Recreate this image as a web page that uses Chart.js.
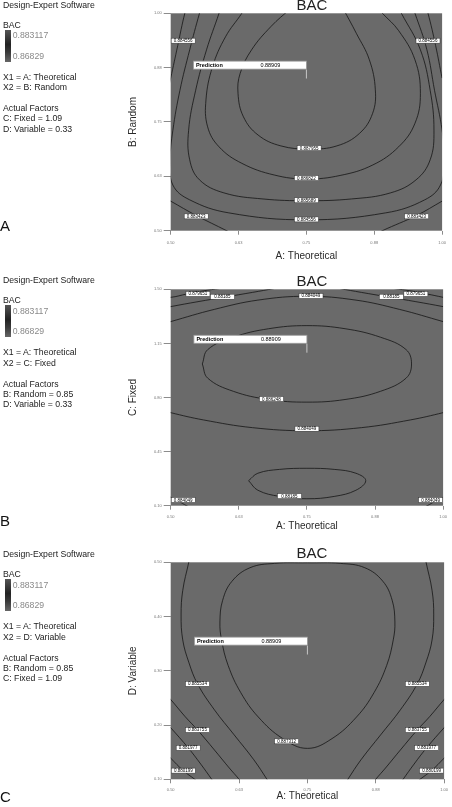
<!DOCTYPE html>
<html>
<head>
<meta charset="utf-8">
<script src="https://cdn.jsdelivr.net/npm/chart.js@4.4.1/dist/chart.umd.min.js"></script>
<style>
body{margin:0;width:452px;height:807px;overflow:hidden;position:relative;background:#fff;font-family:"Liberation Sans",Arial,sans-serif;}
canvas{position:absolute;left:0;}
.t{position:absolute;white-space:nowrap;line-height:10px;font-size:8.7px;color:#222;}
.g{color:#8a8a8a;}
.bar{position:absolute;width:6px;background:linear-gradient(#555,#222 45%,#3a3a3a 70%,#666);}
.bac{position:absolute;font-size:15px;line-height:16px;color:#222;width:60px;text-align:center;}
.letter{position:absolute;left:3px;font-size:15px;line-height:16px;color:#111;}
</style>
</head>
<body>
<canvas id="chartA" width="452" height="263"></canvas>
<canvas id="chartB" width="452" height="257"></canvas>
<canvas id="chartC" width="452" height="253"></canvas>
<script>
Chart.defaults.font.family = '"Liberation Sans", Arial, sans-serif';

/* -------- DATA -------- */

const xTicks = [0.5, 0.625, 0.75, 0.875, 1.0];
const xTickLabels = ["0.50","0.63","0.75","0.88","1.00"];
const yTicksA = [0.5, 0.625, 0.75, 0.875, 1.0];
const yTickLabelsA = ["0.50","0.63","0.75","0.88","1.00"];
const yTicksB = [0.1, 0.45, 0.8, 1.15, 1.5];
const yTickLabelsB = ["0.10","0.45","0.80","1.15","1.50"];
const yTicksC = [0.1, 0.2, 0.3, 0.4, 0.5];
const yTickLabelsC = ["0.10","0.20","0.30","0.40","0.50"];

const predictionValue = "0.88909";
const predictionA = [0.75, 0.85];
const predictionB = [0.75, 1.09];
const predictionC = [0.75, 0.33];

const sideA = ["X1 = A: Theoretical","X2 = B: Random","C: Fixed = 1.09","D: Variable = 0.33"];
const sideB = ["X1 = A: Theoretical","X2 = C: Fixed","B: Random = 0.85","D: Variable = 0.33"];
const sideC = ["X1 = A: Theoretical","X2 = D: Variable","B: Random = 0.85","C: Fixed = 1.09"];
const legendHigh = "0.883117";
const legendLow = "0.86829";

// panel A contours (A: Theoretical vs B: Random)
const contourA1 = [[0.53,1.01],[0.526,1.0],[0.513,0.926],[0.5,0.851],[0.496,0.83]];
const contourA2 = [[0.97,1.01],[0.974,1.0],[0.988,0.926],[1.0,0.851],[1.004,0.83]];
const contourA3 = [[0.556,1.01],[0.553,1.0],[0.535,0.916],[0.517,0.823],[0.504,0.731],[0.499,0.663],[0.504,0.605],[0.535,0.571],[0.607,0.541],[0.75,0.525],[0.896,0.541],[0.968,0.571],[0.997,0.605],[1.004,0.663],[1.0,0.731],[0.986,0.823],[0.972,0.916],[0.95,1.0],[0.946,1.01]];
const contourA4 = [[0.591,1.01],[0.589,1.0],[0.566,0.916],[0.546,0.823],[0.533,0.731],[0.535,0.663],[0.553,0.617],[0.598,0.587],[0.67,0.573],[0.75,0.569],[0.833,0.573],[0.905,0.587],[0.952,0.617],[0.978,0.663],[0.985,0.731],[0.978,0.823],[0.96,0.916],[0.925,1.0],[0.92,1.01]];
const contourA5 = [[0.635,1.01],[0.631,1.0],[0.601,0.946],[0.577,0.877],[0.565,0.801],[0.568,0.739],[0.589,0.693],[0.631,0.655],[0.691,0.628],[0.75,0.619],[0.812,0.627],[0.872,0.651],[0.92,0.693],[0.95,0.747],[0.96,0.816],[0.95,0.893],[0.92,0.96],[0.89,1.0],[0.883,1.01]];
const contourA6 = [[0.72,1.01],[0.685,0.97],[0.649,0.916],[0.628,0.862],[0.624,0.816],[0.634,0.762],[0.661,0.72],[0.703,0.695],[0.755,0.688],[0.806,0.695],[0.848,0.724],[0.872,0.77],[0.877,0.824],[0.866,0.893],[0.842,0.954],[0.818,1.01]];
const contourA7 = [[0.49,0.575],[0.5,0.568],[0.547,0.535],[0.603,0.5],[0.615,0.492]];
const contourA8 = [[0.88,0.492],[0.89,0.5],[0.953,0.535],[1.0,0.568],[1.01,0.575]];
const labelsA = [[0.523,0.937,"0.884556"],[0.974,0.937,"0.884556"],[0.755,0.690,"0.887955"],[0.75,0.621,"0.886822"],[0.75,0.570,"0.885689"],[0.75,0.526,"0.884556"],[0.547,0.533,"0.883423"],[0.953,0.533,"0.883423"]];

// panel B contours (A: Theoretical vs C: Fixed)
const contourB1 = [[0.49,1.455],[0.5,1.448],[0.53,1.47],[0.56,1.49],[0.59,1.505]];
const contourB2 = [[0.91,1.505],[0.94,1.49],[0.97,1.47],[1.0,1.448],[1.01,1.44]];
const contourB3 = [[0.49,1.38],[0.5,1.388],[0.55,1.42],[0.6,1.45],[0.65,1.48],[0.69,1.505]];
const contourB4 = [[0.81,1.505],[0.85,1.48],[0.9,1.45],[0.95,1.42],[1.0,1.388],[1.01,1.38]];
const contourB5 = [[0.49,1.28],[0.5,1.291],[0.58,1.37],[0.66,1.43],[0.75,1.455],[0.84,1.43],[0.92,1.37],[1.0,1.291],[1.01,1.28]];
const contourB6 = [[0.558,1.017],[0.568,1.11],[0.615,1.19],[0.68,1.245],[0.75,1.265],[0.82,1.245],[0.885,1.19],[0.932,1.11],[0.942,1.017],[0.932,0.925],[0.885,0.84],[0.82,0.787],[0.75,0.77],[0.68,0.787],[0.615,0.84],[0.568,0.925],[0.558,1.017]];
const contourB7 = [[0.49,0.715],[0.5,0.702],[0.56,0.655],[0.65,0.605],[0.75,0.585],[0.85,0.605],[0.94,0.655],[1.0,0.702],[1.01,0.715]];
const contourB8 = [[0.643,0.262],[0.66,0.31],[0.7,0.335],[0.75,0.342],[0.8,0.335],[0.84,0.31],[0.858,0.262],[0.84,0.2],[0.8,0.16],[0.75,0.145],[0.7,0.16],[0.66,0.2],[0.643,0.262]];
const contourB9 = [[0.49,0.17],[0.5,0.155],[0.515,0.128],[0.529,0.1],[0.535,0.09]];
const contourB10 = [[0.965,0.09],[0.971,0.1],[0.985,0.128],[1.0,0.155],[1.01,0.17]];
const labelsB = [[0.55,1.47,"0.879651"],[0.95,1.47,"0.879651"],[0.595,1.452,"0.88185"],[0.905,1.452,"0.88185"],[0.7575,1.457,"0.884049"],[0.685,0.79,"0.886248"],[0.75,0.598,"0.884049"],[0.718,0.162,"0.88185"],[0.523,0.137,"0.884049"],[0.977,0.137,"0.884049"]];

// panel C contours (A: Theoretical vs D: Variable)
const contourC1 = [[0.75,0.499],[0.69,0.498],[0.645,0.49],[0.612,0.465],[0.595,0.43],[0.59,0.39],[0.593,0.357],[0.605,0.31],[0.628,0.26],[0.66,0.215],[0.705,0.175],[0.75,0.157],[0.795,0.175],[0.84,0.215],[0.872,0.26],[0.895,0.31],[0.907,0.357],[0.91,0.39],[0.905,0.43],[0.888,0.465],[0.855,0.49],[0.81,0.498],[0.75,0.499]];
const contourC2 = [[0.535,0.51],[0.533,0.5],[0.522,0.448],[0.519,0.403],[0.522,0.357],[0.533,0.316],[0.549,0.276],[0.58,0.228],[0.616,0.182],[0.652,0.136],[0.676,0.1],[0.682,0.09]];
const contourC3 = [[0.965,0.51],[0.967,0.5],[0.978,0.448],[0.981,0.403],[0.978,0.357],[0.967,0.316],[0.951,0.276],[0.92,0.228],[0.884,0.182],[0.848,0.136],[0.824,0.1],[0.818,0.09]];
const contourC4 = [[0.49,0.257],[0.5,0.247],[0.526,0.216],[0.549,0.191],[0.58,0.154],[0.607,0.121],[0.625,0.1],[0.632,0.09]];
const contourC5 = [[1.01,0.257],[1.0,0.247],[0.974,0.216],[0.951,0.191],[0.92,0.154],[0.893,0.121],[0.875,0.1],[0.868,0.09]];
const contourC6 = [[0.49,0.205],[0.5,0.195],[0.532,0.158],[0.555,0.128],[0.575,0.1],[0.582,0.09]];
const contourC7 = [[1.01,0.205],[1.0,0.195],[0.968,0.158],[0.945,0.128],[0.925,0.1],[0.918,0.09]];
const contourC8 = [[0.49,0.15],[0.5,0.139],[0.523,0.116],[0.544,0.1],[0.556,0.09]];
const contourC9 = [[1.01,0.15],[1.0,0.139],[0.977,0.116],[0.956,0.1],[0.944,0.09]];
const labelsC = [[0.549,0.276,"0.885534"],[0.951,0.276,"0.885534"],[0.549,0.191,"0.883755"],[0.951,0.191,"0.883755"],[0.532,0.158,"0.881977"],[0.968,0.158,"0.881977"],[0.523,0.116,"0.880199"],[0.977,0.116,"0.880199"],[0.712,0.17,"0.887312"]];


/* -------- PLUGINS -------- */

const plotBg = {
id:"plotBg",
beforeDraw(chart){
const {ctx, chartArea:a} = chart;
ctx.save();
ctx.fillStyle = "#6a6a6a";
ctx.fillRect(a.left, a.top, a.right-a.left, a.bottom-a.top);
ctx.restore();
}
};

const contourLabels = {
id:"contourLabels",
afterDatasetsDraw(chart, args, opts){
const {ctx, scales:{x, y}} = chart;
ctx.save();
ctx.font = '4.5px "Liberation Sans", Arial, sans-serif';
ctx.textAlign = "center";
ctx.textBaseline = "middle";
opts.items.forEach(l=>{
const px = x.getPixelForValue(l[0]);
const py = y.getPixelForValue(l[1]);
ctx.fillStyle = "#fff";
ctx.fillRect(px-12, py-2.5, 24, 5);
ctx.strokeStyle = "#333";
ctx.lineWidth = 0.5;
ctx.strokeRect(px-12, py-2.5, 24, 5);
ctx.fillStyle = "#000";
ctx.fillText(l[2], px, py+0.3);
});
ctx.restore();
}
};

const predictionFlag = {
id:"predictionFlag",
afterDatasetsDraw(chart, args, opts){
const {ctx, scales:{x, y}} = chart;
const px = x.getPixelForValue(opts.point[0]);
const py = y.getPixelForValue(opts.point[1]);
ctx.save();
ctx.strokeStyle = "#c8c8c8";
ctx.lineWidth = 1;
ctx.beginPath();
ctx.moveTo(px, py-9);
ctx.lineTo(px, py);
ctx.stroke();
ctx.fillStyle = "#fff";
ctx.fillRect(px-113, py-17.4, 113, 8);
ctx.strokeStyle = "#9a9a9a";
ctx.lineWidth = 0.8;
ctx.strokeRect(px-113, py-17.4, 113, 8);
ctx.fillStyle = "#000";
ctx.textBaseline = "middle";
ctx.textAlign = "left";
ctx.font = 'bold 5.5px "Liberation Sans", Arial, sans-serif';
ctx.fillText("Prediction", px-110.5, py-13.3);
ctx.font = '5.5px "Liberation Sans", Arial, sans-serif';
ctx.fillText(opts.value, px-46, py-13.3);
ctx.restore();
}
};


/* -------- PANEL BUILDER -------- */

function lineSet(pts){
return {
data: pts.map(p=>({x:p[0], y:p[1]})),
showLine: true,
borderColor: "#151515",
borderWidth: 0.8,
pointRadius: 0,
tension: 0.4
};
}

function makePanel(id, p){
const canvas = document.getElementById(id);
const h = Math.round(p.xTitleY + 5.7 - p.top);
canvas.width = 452;
canvas.height = h;
canvas.style.top = p.top + "px";
const xH = h - (p.plotBottom - p.top);

new Chart(canvas, {
type: "scatter",
data: { datasets: p.contours.map(lineSet) },
options: {
responsive: false,
animation: false,
events: [],
layout: { padding: { left: 126.8, right: 4.3, top: p.plotTop - p.top, bottom: 0 } },
plugins: {
legend: { display: false },
tooltip: { enabled: false },
contourLabels: { items: p.labels },
predictionFlag: { point: p.pred, value: predictionValue }
},
scales: {
x: {
type: "linear", min: 0.5, max: 1.0,
afterBuildTicks: s => { s.ticks = xTicks.map(v=>({value:v})); },
afterFit: s => { s.height = xH; },
ticks: { font:{size:4}, color:"#777", padding:p.xPad, maxRotation:0, autoSkip:false,
callback: (v,i) => xTickLabels[i] },
grid: { drawOnChartArea:false, drawTicks:true, tickLength:4, color:"#8c8c8c" },
border: { display:false },
title: { display:true, text:"A: Theoretical", font:{size:10}, color:"#2a2a2a", padding:0 }
},
y: {
type: "linear", min: p.yMin, max: p.yMax,
afterBuildTicks: s => { s.ticks = p.yTicks.map(v=>({value:v})); },
afterFit: s => { s.width = 43.9; },
ticks: { font:{size:4}, color:"#777", padding:2, autoSkip:false,
callback: (v,i) => p.yLabels[i] },
grid: { drawOnChartArea:false, drawTicks:true, tickLength:7, color:"#8c8c8c" },
border: { display:false },
title: { display:true, text:p.yTitle, font:{size:10}, color:"#2a2a2a", padding:0 }
}
}
},
plugins: [plotBg, contourLabels, predictionFlag]
});
}

makePanel("chartA", {top:0, plotTop:13.3, plotBottom:230.7, xTitleY:256.7, xPad:6,
yMin:0.5, yMax:1.0, yTicks:yTicksA, yLabels:yTickLabelsA, yTitle:"B: Random", pred:predictionA,
contours:[contourA1,contourA2,contourA3,contourA4,contourA5,contourA6,contourA7,contourA8], labels:labelsA});

makePanel("chartB", {top:276, plotTop:289.3, plotBottom:505.7, xTitleY:526.7, xPad:5,
yMin:0.1, yMax:1.5, yTicks:yTicksB, yLabels:yTickLabelsB, yTitle:"C: Fixed", pred:predictionB,
contours:[contourB1,contourB2,contourB3,contourB4,contourB5,contourB6,contourB7,contourB8,contourB9,contourB10], labels:labelsB});

makePanel("chartC", {top:549, plotTop:562.3, plotBottom:779.3, xTitleY:796, xPad:4,
yMin:0.1, yMax:0.5, yTicks:yTicksC, yLabels:yTickLabelsC, yTitle:"D: Variable", pred:predictionC,
contours:[contourC1,contourC2,contourC3,contourC4,contourC5,contourC6,contourC7,contourC8,contourC9], labels:labelsC});


/* -------- SIDE TEXT -------- */

function addText(txt, left, top, cls){
const d = document.createElement("div");
d.className = cls;
d.textContent = txt;
d.style.left = left + "px";
d.style.top = top + "px";
document.body.appendChild(d);
return d;
}

function sidePanel(top, rows){
addText("Design-Expert  Software", 3, top-5, "t");
addText("BAC", 3, top+15.3, "t");
const bar = document.createElement("div");
bar.className = "bar";
bar.style.left = "4.7px";
bar.style.top = (top+25)+"px";
bar.style.height = "32px";
document.body.appendChild(bar);
addText(legendHigh, 12.7, top+25.5, "t g");
addText(legendLow, 12.7, top+46.2, "t g");
addText(rows[0], 3, top+67, "t");
addText(rows[1], 3, top+77.6, "t");
addText("Actual Factors", 3, top+98.6, "t");
addText(rows[2], 3, top+108.6, "t");
addText(rows[3], 3, top+118.8, "t");
}

sidePanel(4.7, sideA);
sidePanel(280, sideB);
sidePanel(554, sideC);

addText("BAC", 282, -3, "bac");
addText("BAC", 282, 272.7, "bac");
addText("BAC", 282, 545.3, "bac");

addText("A", 0, 218, "letter");
addText("B", 0, 513, "letter");
addText("C", 0, 789, "letter");
</script>
</body>
</html>
